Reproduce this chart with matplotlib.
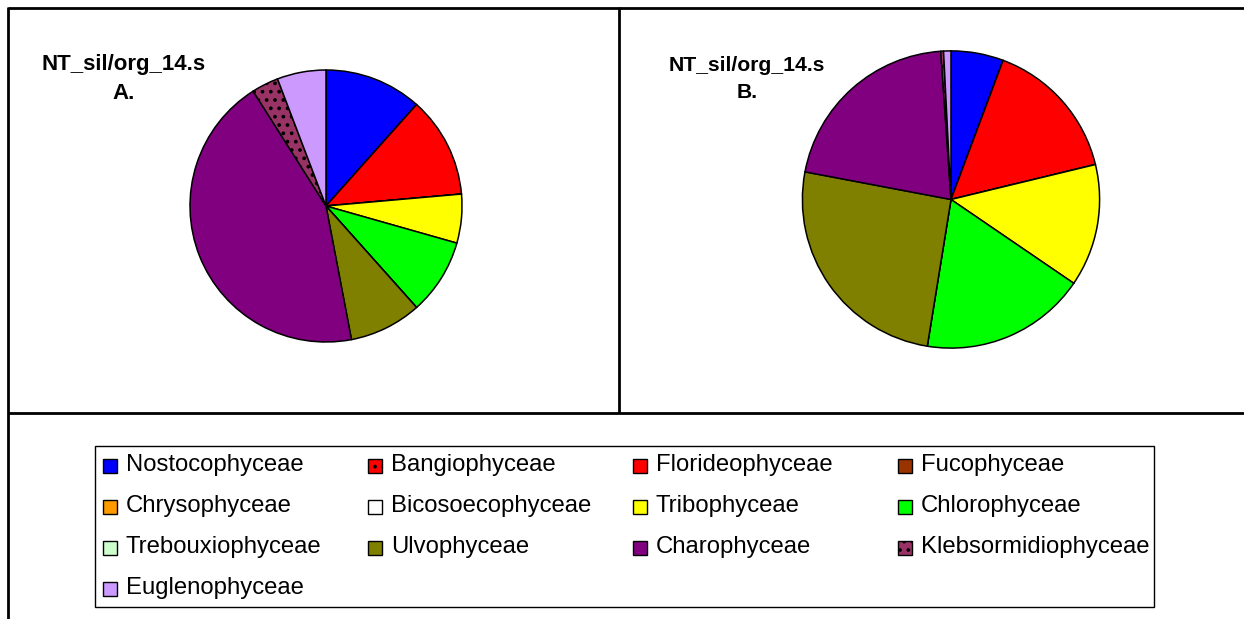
import numpy as np
import matplotlib
matplotlib.use("Agg")
import matplotlib.pyplot as plt
from matplotlib.patches import Rectangle

plt.rcParams['font.family'] = ['Liberation Sans', 'DejaVu Sans']
plt.rcParams['hatch.linewidth'] = 1.5

# Data
classes = ["Nostocophyceae", "Bangiophyceae", "Florideophyceae", "Fucophyceae",
           "Chrysophyceae", "Bicosoecophyceae", "Tribophyceae", "Chlorophyceae",
           "Trebouxiophyceae", "Ulvophyceae", "Charophyceae",
           "Klebsormidiophyceae", "Euglenophyceae"]
share_A = [11.6, 0, 12.0, 0, 0, 0, 5.8, 9.0, 0, 8.6, 44.0, 3.2, 5.8]
share_B = [5.7, 0, 15.5, 0, 0, 0, 13.3, 18.0, 0, 25.4, 20.9, 0.3, 0.8]
title_A = "NT_sil/org_14.s\nA."
title_B = "NT_sil/org_14.s\nB."

colors = ["#0000FF", "#FF0000", "#FF0000", "#993300", "#FF9900", "#FFFFFF",
          "#FFFF00", "#00FF00", "#CCFFCC", "#808000", "#800080", "#993366",
          "#CC99FF"]
hatches = [None, "..", None, None, None, None, None, None, None, None, None,
           "..", None]

W, H = 1244, 619
fig = plt.figure(figsize=(W / 100, H / 100), dpi=100)

# overlay axes in pixel coordinates for frame and legend
bg = fig.add_axes([0, 0, 1, 1])
bg.set_xlim(0, W)
bg.set_ylim(H, 0)
bg.axis("off")

lw = 2.0
bg.plot([8, W], [7.5, 7.5], color="black", lw=lw, solid_capstyle="butt")
bg.plot([8, 8], [7, H], color="black", lw=lw, solid_capstyle="butt")
bg.plot([8, W], [413, 413], color="black", lw=lw, solid_capstyle="butt")
bg.plot([619, 619], [7, 413], color="black", lw=lw, solid_capstyle="butt")


def pie_axes(cx, cy, r):
    pad = 1.08
    rr = r * pad
    ax = fig.add_axes([(cx - rr) / W, (H - cy - rr) / H, 2 * rr / W, 2 * rr / H])
    return ax, pad


def draw_pie(ax, pad, vals):
    wedges, _ = ax.pie(vals, colors=colors, startangle=90, counterclock=False,
                       wedgeprops=dict(edgecolor="black", linewidth=1.1))
    for w, h in zip(wedges, hatches):
        if h:
            w.set_hatch(h)
    ax.set_xlim(-pad, pad)
    ax.set_ylim(-pad, pad)
    ax.set_aspect("auto")
    ax.axis("off")


axA, padA = pie_axes(326, 206, 136)
draw_pie(axA, padA, share_A)
axB, padB = pie_axes(951, 199.5, 148.6)
draw_pie(axB, padB, share_B)

bg.text(124, 79, title_A, ha="center", va="center", fontsize=16,
        fontweight="bold", linespacing=1.5)
bg.text(747, 79, title_B, ha="center", va="center", fontsize=15.2,
        fontweight="bold", linespacing=1.5)

# legend
bg.add_patch(Rectangle((95, 446), 1059, 161, facecolor="white",
                       edgecolor="black", lw=1.0))
col_x = [103, 368, 633, 898]
row_y = [465, 506, 547, 588]
for i, (name, c, h) in enumerate(zip(classes, colors, hatches)):
    r, k = divmod(i, 4)
    x, y = col_x[k], row_y[r]
    bg.add_patch(Rectangle((x, y - 6.5), 14, 14, facecolor=c,
                           edgecolor="black", lw=1.0, hatch=h))
    bg.text(x + 23, y, name, ha="left", va="center", fontsize=17.2)

fig.savefig("out.png", dpi=100)
